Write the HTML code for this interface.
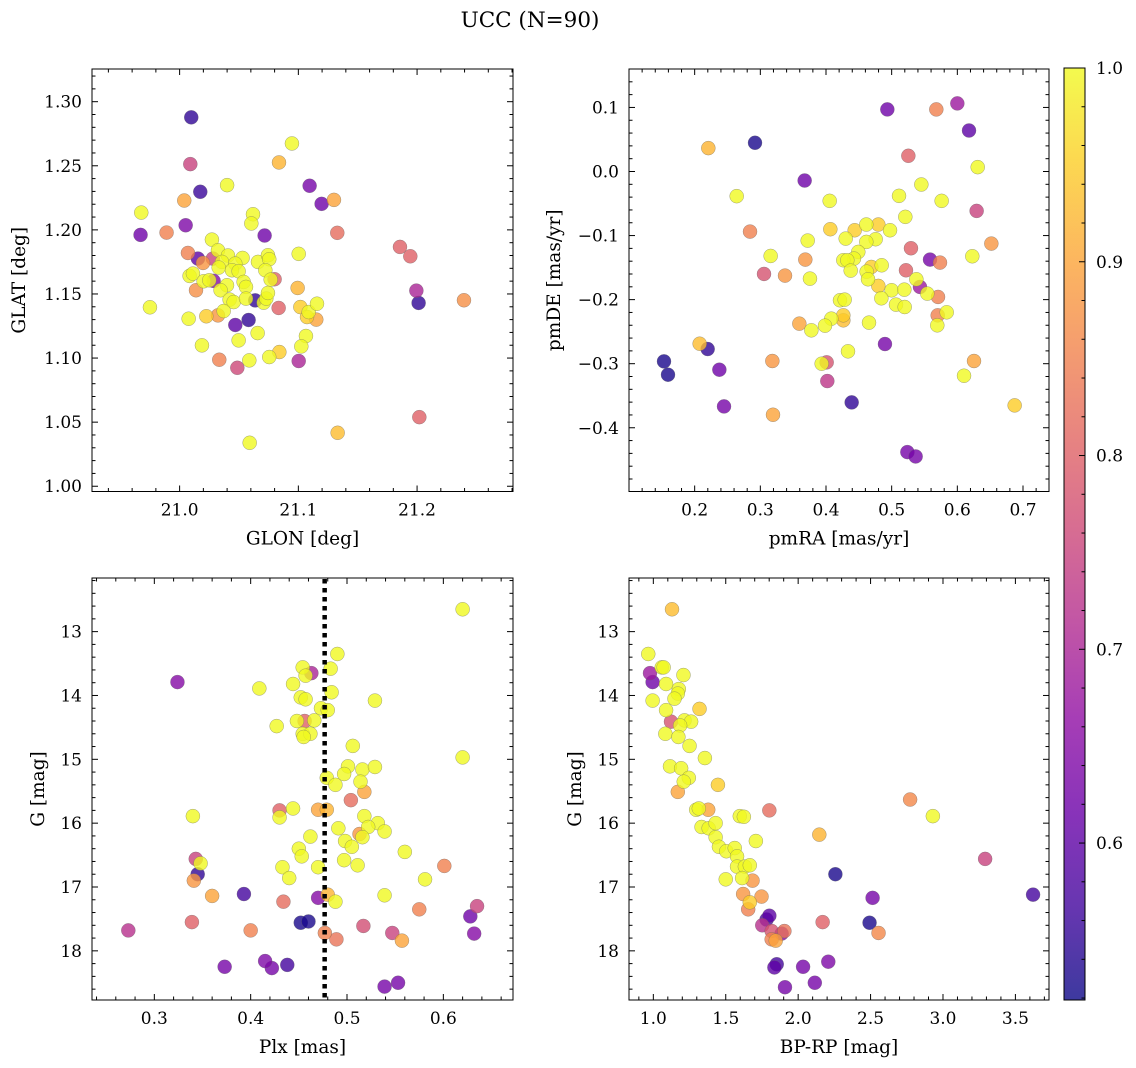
<!DOCTYPE html>
<html><head><meta charset="utf-8"><title>UCC (N=90)</title>
<style>
html,body{margin:0;padding:0;background:#fff;}
svg{display:block;font-family:"DejaVu Serif","Liberation Serif",serif;}
</style></head>
<body>
<svg id="fig" width="1136" height="1068" viewBox="0 0 1136 1068" xmlns="http://www.w3.org/2000/svg">
<rect x="0" y="0" width="1136" height="1068" fill="#fff"/>
<text x="530" y="27" font-size="21.5" text-anchor="middle">UCC (N=90)</text>
<defs>
<linearGradient id="cbgrad" x1="0" y1="1" x2="0" y2="0">
<stop offset="0" stop-color="#0d0887"/><stop offset="0.1" stop-color="#41049d"/><stop offset="0.2" stop-color="#6a00a8"/><stop offset="0.3" stop-color="#8f0da4"/><stop offset="0.4" stop-color="#b12a90"/><stop offset="0.5" stop-color="#cc4778"/><stop offset="0.6" stop-color="#e16462"/><stop offset="0.7" stop-color="#f2844b"/><stop offset="0.8" stop-color="#fca636"/><stop offset="0.9" stop-color="#fcce25"/><stop offset="1" stop-color="#f0f921"/>
</linearGradient>
</defs>
<g id="panels"></g>
</svg>
<script>
// ---- Panel 1: GLON vs GLAT ----
const p1Glon = [21.0098,21.009,21.0174,21.040,21.0946,21.0837,21.1095,21.1196,21.130,21.1328,20.9677,20.9671,20.989,21.0039,21.0051,21.0618,21.0604,21.0716,21.1003,21.1856,21.1943,21.1994,21.2013,21.2395,21.2019,21.1331,21.059,20.975,21.007,21.0154,21.028,21.0197,21.0272,21.0323,21.0407,21.053,21.0357,21.0469,21.0329,21.0441,21.0497,21.066,21.0744,21.0755,21.0722,21.0800,21.0767,21.0084,21.0112,21.0202,21.0250,21.0286,21.0399,21.0539,21.0559,21.0345,21.0138,21.0421,21.0455,21.0559,21.0637,21.0708,21.073,21.0744,21.0834,21.0994,21.1017,21.1087,21.1073,21.1151,21.1157,21.0371,21.0323,21.0225,21.0076,21.0581,21.0469,21.0657,21.0497,21.1064,21.1025,21.084,21.0755,21.0587,21.1003,21.0334,21.0486,21.0188];
const p1Glat = [1.2878,1.2513,1.2297,1.2349,1.2674,1.2526,1.2344,1.2203,1.2234,1.1977,1.2135,1.1961,1.1979,1.2229,1.2036,1.2122,1.205,1.1956,1.1813,1.1867,1.1794,1.1526,1.143,1.1451,1.0539,1.0417,1.0339,1.1396,1.182,1.1776,1.1776,1.1742,1.1924,1.1841,1.18,1.1781,1.175,1.1737,1.1706,1.1685,1.1677,1.175,1.1802,1.1771,1.1685,1.1615,1.1612,1.1641,1.1659,1.1599,1.1607,1.1602,1.1568,1.1594,1.1555,1.1529,1.1529,1.1456,1.1437,1.1464,1.145,1.1432,1.1464,1.1508,1.1391,1.1547,1.1398,1.1359,1.132,1.13,1.1424,1.1367,1.1333,1.1326,1.1307,1.1297,1.1258,1.1195,1.1138,1.1172,1.1091,1.1047,1.1008,1.0982,1.0977,1.0987,1.0924,1.1099];
const p1Prob = [0.55,0.75,0.56,1,1,0.92,0.63,0.62,0.9,0.82,1,0.62,0.85,0.9,0.64,1,1,0.62,1,0.8,0.8,0.7,0.55,0.87,0.8,0.93,1,1,0.85,0.6,0.75,0.88,1,1,1,1,1,1,1,1,1,1,1,1,1,0.8,1,1,1,1,1,0.65,1,1,1,1,0.87,1,1,1,0.55,1,1,1,0.8,0.92,0.95,1,0.95,0.9,1,1,0.88,0.95,1,0.55,0.6,1,1,1,1,0.95,1,1,0.7,0.85,0.76,1];

// ---- Panel 2: pmRA vs pmDE ----
const p2PmRA = [0.4934,0.568,0.6,0.6178,0.2208,0.2919,0.5254,0.631,0.3675,0.5452,0.264,0.5112,0.5761,0.4056,0.6294,0.5208,0.2843,0.4066,0.3721,0.43,0.4437,0.4614,0.4797,0.4975,0.4756,0.4614,0.5294,0.6518,0.6228,0.5584,0.5736,0.3157,0.3685,0.4492,0.4426,0.4264,0.4325,0.4376,0.4690,0.4848,0.4619,0.4640,0.5218,0.5376,0.5431,0.4797,0.4999,0.5193,0.4843,0.5543,0.5706,0.5066,0.5198,0.5838,0.5701,0.5695,0.3056,0.3376,0.3756,0.4213,0.4284,0.4264,0.4264,0.4081,0.3985,0.3777,0.3594,0.4655,0.2076,0.2198,0.1533,0.1594,0.2376,0.3183,0.401,0.3934,0.4335,0.4898,0.6254,0.6102,0.402,0.2447,0.3193,0.4391,0.6873,0.5239,0.5365];
const p2PmDE = [0.0969,0.0969,0.1063,0.064,0.0365,0.0448,0.0245,0.0068,-0.0141,-0.0203,-0.0385,-0.038,-0.0458,-0.0458,-0.0615,-0.0708,-0.0938,-0.0901,-0.1078,-0.1047,-0.0917,-0.0828,-0.0828,-0.0917,-0.1057,-0.1099,-0.1198,-0.1125,-0.1323,-0.1375,-0.1422,-0.1318,-0.1375,-0.1255,-0.1359,-0.1385,-0.1385,-0.1547,-0.149,-0.1464,-0.1563,-0.1682,-0.1542,-0.1682,-0.1802,-0.1786,-0.1854,-0.1844,-0.1979,-0.1906,-0.1958,-0.2078,-0.2115,-0.2198,-0.2245,-0.2401,-0.1599,-0.1625,-0.1672,-0.201,-0.2,-0.2245,-0.2323,-0.2297,-0.2406,-0.2479,-0.2375,-0.2359,-0.2688,-0.2771,-0.2964,-0.3172,-0.3094,-0.2958,-0.2979,-0.3,-0.2807,-0.2693,-0.2958,-0.3188,-0.3271,-0.3667,-0.3797,-0.3604,-0.3651,-0.438,-0.4448];
const p2Prob = [0.62,0.85,0.68,0.6,0.92,0.53,0.8,1,0.62,1,1,1,1,1,0.75,1,0.85,0.95,1,1,0.95,1,0.95,1,1,1,0.8,0.88,1,0.63,0.85,1,0.88,1,1,1,1,1,0.95,1,1,1,0.8,1,0.68,0.95,1,1,1,1,0.85,1,1,1,0.85,1,0.78,0.88,1,1,1,0.95,0.93,1,1,1,0.9,1,0.93,0.55,0.53,0.53,0.62,0.88,0.78,1,1,0.63,0.9,1,0.73,0.63,0.9,0.55,0.95,0.63,0.63];

// ---- Panel 3: Plx vs G ----
const p3Plx = [0.620,0.490,0.454,0.463,0.457,0.483,0.324,0.409,0.444,0.484,0.452,0.457,0.529,0.473,0.480,0.427,0.448,0.456,0.466,0.454,0.462,0.455,0.506,0.620,0.501,0.516,0.529,0.497,0.479,0.488,0.514,0.518,0.504,0.430,0.444,0.430,0.470,0.479,0.340,0.518,0.532,0.522,0.491,0.539,0.513,0.516,0.462,0.498,0.505,0.450,0.453,0.560,0.497,0.511,0.343,0.348,0.433,0.470,0.601,0.345,0.341,0.440,0.581,0.360,0.393,0.434,0.470,0.480,0.488,0.539,0.575,0.635,0.628,0.632,0.339,0.273,0.400,0.452,0.460,0.477,0.489,0.517,0.547,0.557,0.373,0.415,0.422,0.438,0.539,0.553];
const p3G = [12.65,13.35,13.56,13.65,13.69,13.58,13.79,13.89,13.82,13.95,14.03,14.06,14.08,14.20,14.23,14.48,14.40,14.40,14.39,14.60,14.60,14.65,14.79,14.97,15.11,15.16,15.12,15.23,15.29,15.40,15.35,15.51,15.64,15.80,15.77,15.91,15.79,15.79,15.89,15.89,16.00,16.06,16.08,16.13,16.17,16.22,16.21,16.28,16.37,16.40,16.52,16.45,16.58,16.66,16.56,16.63,16.69,16.69,16.67,16.80,16.90,16.86,16.88,17.14,17.11,17.23,17.17,17.12,17.23,17.13,17.35,17.30,17.46,17.73,17.55,17.68,17.68,17.56,17.54,17.72,17.82,17.61,17.72,17.84,18.25,18.16,18.27,18.22,18.56,18.50];
const p3Prob = [1,1,1,0.7,1,1,0.65,1,1,1,1,1,1,1,1,1,1,0.8,1,1,1,1,1,1,1,1,1,1,1,1,1,0.9,0.82,0.8,1,1,0.9,0.92,1,1,1,1,1,1,0.88,1,1,1,1,1,1,1,1,1,0.75,1,1,1,0.85,0.55,0.88,1,1,0.9,0.57,0.82,0.65,0.92,1,1,0.85,0.75,0.62,0.65,0.8,0.72,0.85,0.53,0.53,0.85,0.83,0.77,0.75,0.9,0.63,0.64,0.63,0.57,0.63,0.63];
const plxLine = [0.4768];

// ---- Panel 4: BP-RP vs G ----
const p4Color = [1.129,0.965,0.977,0.995,1.058,1.071,1.208,1.088,1.176,1.169,1.146,0.995,1.319,1.088,1.122,1.215,1.261,1.185,1.083,1.173,1.250,1.356,1.115,1.192,1.245,1.210,1.446,1.169,1.296,1.314,1.379,1.801,2.773,2.930,1.597,1.625,1.333,1.382,1.430,1.430,2.146,1.708,1.453,1.504,1.562,1.578,1.578,1.632,1.666,1.500,1.613,1.685,2.257,3.291,1.620,1.747,1.666,1.655,2.514,3.622,1.801,1.782,1.752,2.169,2.493,2.555,1.817,1.905,1.886,1.817,1.845,1.852,1.836,2.034,2.208,1.909,2.115];
const p4G = [12.65,13.35,13.65,13.79,13.56,13.56,13.68,13.82,13.90,13.97,14.05,14.08,14.21,14.23,14.41,14.39,14.41,14.47,14.60,14.65,14.79,14.98,15.11,15.14,15.29,15.35,15.40,15.51,15.79,15.77,15.79,15.80,15.63,15.89,15.89,15.90,16.06,16.08,16.00,16.22,16.18,16.28,16.37,16.44,16.39,16.52,16.68,16.68,16.66,16.88,16.86,16.90,16.80,16.56,17.11,17.15,17.24,17.35,17.17,17.12,17.45,17.51,17.60,17.55,17.56,17.72,17.69,17.69,17.73,17.82,17.84,18.21,18.26,18.25,18.17,18.57,18.50];
const p4Prob = [0.93,1,0.68,0.62,1,1,1,1,1,1,1,1,0.95,1,0.78,1,1,1,1,1,1,1,1,1,1,1,0.95,0.9,1,1,0.9,0.82,0.86,1,1,1,1,1,1,1,0.92,1,1,1,1,1,1,1,1,1,1,0.88,0.53,0.75,0.88,0.88,0.95,0.85,0.63,0.57,0.6,0.58,0.72,0.8,0.53,0.86,0.78,0.83,0.65,0.85,0.9,0.57,0.6,0.63,0.64,0.63,0.63];

// ---- Ticks ----
const p1XTicks = [21.0,21.1,21.2];
const p1XLabels = ["21.0","21.1","21.2"];
const p1YTicks = [1.00,1.05,1.10,1.15,1.20,1.25,1.30];
const p1YLabels = ["1.00","1.05","1.10","1.15","1.20","1.25","1.30"];
const p2XTicks = [0.2,0.3,0.4,0.5,0.6,0.7];
const p2XLabels = ["0.2","0.3","0.4","0.5","0.6","0.7"];
const p2YTicks = [0.1,0.0,-0.1,-0.2,-0.3,-0.4,-0.5];
const p2YLabels = ["0.1","0.0","\u22120.1","\u22120.2","\u22120.3","\u22120.4","\u22120.5"];
const p3XTicks = [0.3,0.4,0.5,0.6];
const p3XLabels = ["0.3","0.4","0.5","0.6"];
const gTicks = [13,14,15,16,17,18];
const gLabels = ["13","14","15","16","17","18"];
const p4XTicks = [1.0,1.5,2.0,2.5,3.0,3.5];
const p4XLabels = ["1.0","1.5","2.0","2.5","3.0","3.5"];
const cbTicks = [0.6,0.7,0.8,0.9,1.0];
const cbLabels = ["0.6","0.7","0.8","0.9","1.0"];
const cbMin = 0.519, cbMax = 1.0;

const NS = "http://www.w3.org/2000/svg";
const root = document.getElementById('panels');
const plasma = [[13,8,135],[65,4,157],[106,0,168],[143,13,164],[177,42,144],[204,71,120],[225,100,98],[242,132,75],[252,166,54],[252,206,37],[240,249,33]];
function cmap(v){
  let t=(v-cbMin)/(cbMax-cbMin); t=Math.max(0,Math.min(1,t));
  const f=t*10, i=Math.min(9,Math.floor(f)), r=f-i;
  const a=plasma[i], b=plasma[i+1];
  return 'rgb('+a.map((c,k)=>Math.round(c+(b[k]-c)*r)).join(',')+')';
}
function mk(tag, attrs, parent){
  const e=document.createElementNS(NS,tag);
  for(const k in attrs) e.setAttribute(k, attrs[k]);
  (parent||root).appendChild(e); return e;
}
function panel(cfg){
  const g=mk('g',{});
  
  
  const L=cfg.box[0],T=cfg.box[1],R=cfg.box[2],B=cfg.box[3];
  const sx=v=>L+(v-cfg.xr[0])/(cfg.xr[1]-cfg.xr[0])*(R-L);
  const sy=v=>cfg.yinv ? T+(v-cfg.yr[0])/(cfg.yr[1]-cfg.yr[0])*(B-T) : B-(v-cfg.yr[0])/(cfg.yr[1]-cfg.yr[0])*(B-T);
  const pts=mk('g',{},g);
  
  
  const order=cfg.c.map((v,i)=>i).sort((a,b)=>cfg.c[a]-cfg.c[b]);
  order.forEach(i=>{
    const c=mk('circle',{cx:sx(cfg.x[i]),cy:sy(cfg.y[i]),r:7,fill:cmap(cfg.c[i]),'fill-opacity':0.8,stroke:'#666','stroke-opacity':0.6,'stroke-width':0.5},pts);
    
    
  });
  if(cfg.vline){
    const x=sx(cfg.vline[0]);
    const ln=mk('line',{x1:x,x2:x,y1:T+1,y2:B,stroke:'#000','stroke-width':4.5,'stroke-dasharray':'4.5 4.5'},g);
    
    
  }
  const tk=mk('g',{stroke:'#000','stroke-width':1},g);
  const dmin=(v,r)=>v>=Math.min(r[0],r[1])-1e-9&&v<=Math.max(r[0],r[1])+1e-9;
  for(let v=Math.ceil(cfg.xr[0]/cfg.xm-1e-6)*cfg.xm; v<=cfg.xr[1]+1e-9; v+=cfg.xm){
    const x=sx(v), maj=cfg.xt.some(t=>Math.abs(t-v)<cfg.xm/3), len=maj?6:3.5;
    mk('line',{x1:x,x2:x,y1:B,y2:B-len},tk); mk('line',{x1:x,x2:x,y1:T,y2:T+len},tk);
  }
  const ylo=Math.min(cfg.yr[0],cfg.yr[1]), yhi=Math.max(cfg.yr[0],cfg.yr[1]);
  for(let v=Math.ceil(ylo/cfg.ym-1e-6)*cfg.ym; v<=yhi+1e-9; v+=cfg.ym){
    const y=sy(v), maj=cfg.yt.some(t=>Math.abs(t-v)<cfg.ym/3), len=maj?6:3.5;
    mk('line',{x1:L,x2:L+len,y1:y,y2:y},tk); mk('line',{x1:R,x2:R-len,y1:y,y2:y},tk);
  }
  mk('rect',{x:L,y:T,width:R-L,height:B-T,fill:'none',stroke:'#000','stroke-width':1},g);
  cfg.xt.forEach((v,i)=>{ if(!dmin(v,cfg.xr)) return; const t=mk('text',{x:sx(v),y:B+24,'font-size':17,'text-anchor':'middle'},g); t.textContent=cfg.xl[i];
      });
  cfg.yt.forEach((v,i)=>{ if(!dmin(v,cfg.yr)) return; const t=mk('text',{x:L-10,y:sy(v)+6,'font-size':17,'text-anchor':'end'},g); t.textContent=cfg.yl[i];
      });
  const xt=mk('text',{x:(L+R)/2,y:B+53,'font-size':18.5,'text-anchor':'middle'},g); xt.textContent=cfg.xlab;
   
  const yt=mk('text',{x:0,y:0,'font-size':18.5,'text-anchor':'middle',transform:'translate('+cfg.ylx+','+(T+B)/2+') rotate(-90)'},g); yt.textContent=cfg.ylab;
   
}
panel({name:'glon-glat-panel',box:[92,69,513,491.5],xr:[20.9262,21.2808],yr:[0.9959,1.3255],x:p1Glon,y:p1Glat,c:p1Prob,xt:p1XTicks,xl:p1XLabels,yt:p1YTicks,yl:p1YLabels,xm:0.02,ym:0.01,xlab:'GLON [deg]',ylab:'GLAT [deg]',ylx:25});
panel({name:'pm-panel',box:[629,69,1049,491.5],xr:[0.1,0.7396],yr:[-0.4995,0.1600],x:p2PmRA,y:p2PmDE,c:p2Prob,xt:p2XTicks,xl:p2XLabels,yt:p2YTicks,yl:p2YLabels,xm:0.02,ym:0.02,xlab:'pmRA [mas/yr]',ylab:'pmDE [mas/yr]',ylx:560});
panel({name:'plx-g-panel',box:[92,578,513,1000],xr:[0.2353,0.6723],yr:[12.16,18.77],yinv:true,x:p3Plx,y:p3G,c:p3Prob,xt:p3XTicks,xl:p3XLabels,yt:gTicks,yl:gLabels,xm:0.02,ym:0.2,xlab:'Plx [mas]',ylab:'G [mag]',ylx:44,vline:plxLine});
panel({name:'cmd-panel',box:[629,578,1049,1000],xr:[0.832,3.732],yr:[12.16,18.77],yinv:true,x:p4Color,y:p4G,c:p4Prob,xt:p4XTicks,xl:p4XLabels,yt:gTicks,yl:gLabels,xm:0.1,ym:0.2,xlab:'BP-RP [mag]',ylab:'G [mag]',ylx:581});

// colorbar
(function(){
  const L=1064,R=1085,T=68,B=1000;
  const g=mk('g',{});
  
  
  mk('rect',{x:L,y:T,width:R-L,height:B-T,fill:'url(#cbgrad)','fill-opacity':0.8},g);
  const sy=v=>B-(v-cbMin)/(cbMax-cbMin)*(B-T);
  for(let v=0.52; v<=1.0001; v+=0.02){
    const maj=cbTicks.some(t=>Math.abs(t-v)<0.005);
    mk('line',{x1:R,x2:R-(maj?6:3.5),y1:sy(v),y2:sy(v),stroke:'#000','stroke-width':1},g);
  }
  mk('rect',{x:L,y:T,width:R-L,height:B-T,fill:'none',stroke:'#000','stroke-width':1},g);
  cbTicks.forEach((v,i)=>{ const t=mk('text',{x:R+11,y:sy(v)+6,'font-size':17},g); t.textContent=cbLabels[i];
      });
})();
</script>
</body></html>
